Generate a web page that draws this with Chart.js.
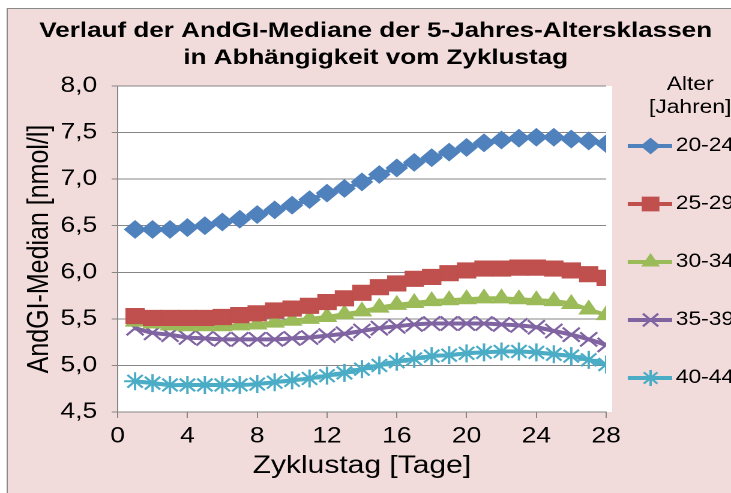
<!DOCTYPE html>
<html>
<head>
<meta charset="utf-8">
<script src="https://cdn.jsdelivr.net/npm/chart.js@4/dist/chart.umd.min.js"></script>
<style>
  html, body { margin: 0; padding: 0; background: #fff; overflow: hidden; }
  /* Das Original ist horizontal gestreckt: intern 609px breit, dann auf 731px gezogen */
  #wrap { width: 609px; height: 493px; transform: scaleX(1.2003); transform-origin: 0 0; }
</style>
</head>
<body>
<div id="wrap"><canvas id="zyklusChart"></canvas></div>
<script>
// Zyklustage
const days = [1, 2, 3, 4, 5, 6, 7, 8, 9, 10, 11, 12, 13, 14, 15, 16, 17, 18, 19, 20, 21, 22, 23, 24, 25, 26, 27, 28];

// AndGI-Mediane je Altersklasse [nmol/l]
const alter2024 = [6.46, 6.46, 6.46, 6.48, 6.50, 6.54, 6.57, 6.62, 6.67, 6.72, 6.78, 6.85, 6.90, 6.97, 7.05, 7.12, 7.18, 7.23, 7.29, 7.34, 7.39, 7.42, 7.44, 7.45, 7.45, 7.43, 7.41, 7.38];
const alter2529 = [5.53, 5.51, 5.51, 5.51, 5.51, 5.52, 5.54, 5.56, 5.59, 5.61, 5.64, 5.68, 5.72, 5.78, 5.84, 5.88, 5.93, 5.95, 5.99, 6.02, 6.04, 6.04, 6.05, 6.05, 6.04, 6.02, 5.98, 5.94];
const alter3034 = [5.47, 5.45, 5.43, 5.42, 5.42, 5.42, 5.43, 5.44, 5.46, 5.48, 5.50, 5.52, 5.55, 5.58, 5.62, 5.65, 5.67, 5.69, 5.70, 5.71, 5.72, 5.72, 5.71, 5.70, 5.69, 5.66, 5.60, 5.54];
const alter3539 = [5.40, 5.35, 5.33, 5.30, 5.29, 5.28, 5.28, 5.28, 5.28, 5.29, 5.30, 5.32, 5.34, 5.37, 5.40, 5.42, 5.44, 5.45, 5.45, 5.45, 5.45, 5.44, 5.43, 5.41, 5.37, 5.33, 5.28, 5.22];
const alter4044 = [4.83, 4.81, 4.79, 4.79, 4.79, 4.79, 4.79, 4.80, 4.82, 4.84, 4.86, 4.89, 4.92, 4.96, 5.00, 5.04, 5.07, 5.10, 5.11, 5.13, 5.14, 5.15, 5.15, 5.14, 5.12, 5.10, 5.06, 5.01];

const seriesLabels = ['20-24', '25-29', '30-34', '35-39', '40-44'];
const seriesValues = [alter2024, alter2529, alter3034, alter3539, alter4044];
const colors = ['#4F81BD', '#C0504D', '#9BBB59', '#8064A2', '#4BACC6'];
const markers = ['rectRot', 'rect', 'triangle', 'crossRot', 'star'];
const markerSize = [8, 10, 8, 10, 9];

const FONT = '"Liberation Sans", Arial, sans-serif';

// Hintergrund: rosa Diagrammfläche, weisse Zeichnungsfläche
const backgroundPlugin = {
  id: 'background',
  beforeDraw(chart) {
    const ctx = chart.ctx;
    const a = chart.chartArea;
    ctx.save();
    ctx.fillStyle = '#ffffff';
    ctx.fillRect(0, 0, chart.width, chart.height);
    ctx.fillStyle = '#F2DCDB';
    ctx.fillRect(6, 8, chart.width - 6, chart.height - 8);
    ctx.strokeStyle = '#8a8a8a';
    ctx.lineWidth = 1;
    ctx.strokeRect(6, 8.5, chart.width + 5, chart.height + 5);
    ctx.fillStyle = '#ffffff';
    ctx.fillRect(a.left, a.top, a.right - a.left + 5, a.bottom - a.top);
    ctx.restore();
  }
};

// Titel von Hand, damit er ueber der ganzen Flaeche zentriert ist
const titlePlugin = {
  id: 'handTitle',
  afterDraw(chart) {
    const ctx = chart.ctx;
    ctx.save();
    ctx.fillStyle = '#000';
    ctx.font = 'bold 21.7px ' + FONT;
    ctx.textAlign = 'center';
    ctx.textBaseline = 'middle';
    ctx.fillText('Verlauf der AndGI-Mediane der 5-Jahres-Altersklassen', 313, 31);
    ctx.fillText('in Abhängigkeit vom Zyklustag', 313, 58);
    ctx.restore();
  }
};

// Legende von Hand (Linie + Marker)
const legendPlugin = {
  id: 'handLegend',
  afterDraw(chart) {
    const ctx = chart.ctx;
    ctx.save();
    ctx.fillStyle = '#000';
    ctx.font = '19px ' + FONT;
    ctx.textAlign = 'center';
    ctx.textBaseline = 'middle';
    ctx.fillText('Alter', 575, 85);
    ctx.fillText('[Jahren]', 575, 108);
    seriesLabels.forEach((label, i) => {
      const y = 146 + i * 58;
      ctx.strokeStyle = colors[i];
      ctx.lineWidth = 4;
      ctx.beginPath();
      ctx.moveTo(523, y);
      ctx.lineTo(560, y);
      ctx.stroke();
      ctx.fillStyle = colors[i];
      ctx.lineWidth = 2;
      Chart.helpers.drawPoint(ctx, {
        pointStyle: markers[i],
        radius: markerSize[i] - 1,
        rotation: 0,
        borderWidth: 2
      }, 542, y);
      ctx.fillStyle = '#000';
      ctx.textAlign = 'left';
      ctx.fillText(label, 563, y);
    });
    ctx.restore();
  }
};

const datasets = seriesLabels.map((label, i) => ({
  label: label,
  data: days.map((d, k) => ({ x: d, y: seriesValues[i][k] })),
  borderColor: colors[i],
  backgroundColor: colors[i],
  borderWidth: 4,
  tension: 0.3,
  pointStyle: markers[i],
  pointRadius: markerSize[i],
  pointBorderWidth: 2,
  pointBorderColor: colors[i],
  pointBackgroundColor: colors[i]
}));

new Chart(document.getElementById('zyklusChart').getContext('2d'), {
  type: 'line',
  data: { datasets: datasets },
  plugins: [backgroundPlugin, titlePlugin, legendPlugin],
  options: {
    responsive: true,
    maintainAspectRatio: false,
    animation: false,
    devicePixelRatio: 2,
    layout: { padding: { left: 7, right: 104, top: 86, bottom: 0 } },
    plugins: {
      legend: { display: false },
      tooltip: { enabled: false },
      title: { display: false }
    },
    scales: {
      x: {
        type: 'linear',
        min: 0,
        max: 28,
        afterFit: s => { s.height = 81; },
        ticks: { stepSize: 4, color: '#000', font: { family: FONT, size: 22 }, padding: 5, maxRotation: 0 },
        grid: { drawOnChartArea: false, tickLength: 6, color: '#868686' },
        border: { color: '#868686' },
        title: { display: true, text: 'Zyklustag [Tage]', color: '#000', font: { family: FONT, size: 25 }, padding: { top: 0, bottom: 12 } }
      },
      y: {
        min: 4.5,
        max: 8.0,
        afterFit: s => { s.width = 91; },
        ticks: {
          stepSize: 0.5,
          color: '#000',
          font: { family: FONT, size: 22 },
          padding: 12,
          callback: v => v.toFixed(1).replace('.', ',')
        },
        grid: { color: '#868686', tickLength: 5 },
        border: { color: '#868686' },
        title: { display: true, text: 'AndGI-Median [nmol/l]', color: '#000', font: { family: FONT, size: 25 }, padding: { top: 11, bottom: 0 } }
      }
    }
  }
});
</script>
</body>
</html>
